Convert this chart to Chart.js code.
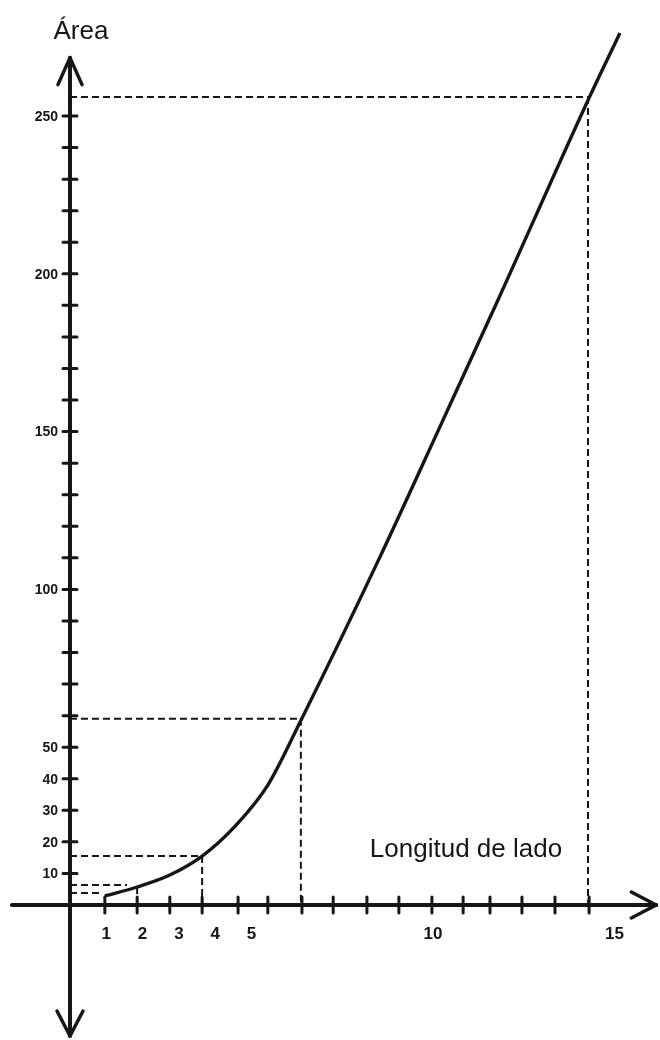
<!DOCTYPE html>
<html><head><meta charset="utf-8">
<script src="https://cdn.jsdelivr.net/npm/chart.js@4"></script>
<style>html,body{margin:0;padding:0;background:#fff}#wrap{width:660px;height:1040px;position:relative}canvas{display:block}</style>
</head><body><div id="wrap"><canvas id="c" width="660" height="1040"></canvas></div>
<script>
// ---- data ----
const sideLength = [0.96, 1.85, 2.75, 3.64, 4.55, 5.45, 6.34, 8.54, 10.19, 11.79, 14.27, 15.15];
const areaValues = [2.85, 5.7, 9.5, 15.5, 25.0, 38.0, 58.0, 110.3, 151.5, 191.7, 255.0, 276.3];

// dashed guides: horizontal (from the Area axis to the curve) and vertical (from the curve to the side axis)
const guideHArea = [3.8, 6.3, 15.5, 59, 256];
const guideHSide = [0.91, 1.57, 3.64, 6.36, 14.27];
const guideVSide = [1.85, 3.64, 6.36, 14.27];
const guideVArea = [5.7, 15.5, 59, 256];

// axis ticks
const yTickMarks = [10,20,30,40,50,60,70,80,90,100,110,120,130,140,150,160,170,180,190,200,210,220,230,240,250];
const yTickLabels = ['10','20','30','40','50','100','150','200','250'];
const xTickMarks = [0.96, 1.85, 2.75, 3.64, 4.63, 5.45, 6.39, 7.25, 8.18, 9.06, 9.97, 10.83, 11.57, 12.45, 13.36, 14.30];
const xTickLabels = ['1','2','3','4','5','10','15'];

const yAxisTitle = 'Área';
const xAxisTitle = 'Longitud de lado';

// ---- build datasets ----
const ink = '#161616';
const datasets = [];
datasets.push({
  data: sideLength.map((x, i) => ({x, y: areaValues[i]})),
  borderColor: ink, borderWidth: 3.4, pointRadius: 0,
  cubicInterpolationMode: 'monotone', fill: false, order: 0
});
guideHArea.forEach((a, i) => datasets.push({
  data: [{x: 0, y: a}, {x: guideHSide[i], y: a}],
  borderColor: ink, borderWidth: 2, borderDash: [7, 4], pointRadius: 0, tension: 0, order: 1
}));
guideVSide.forEach((s, i) => datasets.push({
  data: [{x: s, y: guideVArea[i]}, {x: s, y: 0}],
  borderColor: ink, borderWidth: 2, borderDash: [7, 4], pointRadius: 0, tension: 0, order: 1
}));

const FONT = '"Liberation Sans", Arial, Helvetica, sans-serif';

const axesPlugin = {
  id: 'handAxes',
  beforeDatasetsDraw(chart) {
    const {ctx, scales: {x, y}} = chart;
    const x0 = x.getPixelForValue(0), y0 = y.getPixelForValue(0);
    ctx.save();
    ctx.strokeStyle = ink; ctx.lineCap = 'round'; ctx.lineJoin = 'round';
    ctx.lineWidth = 4;
    ctx.beginPath();
    ctx.moveTo(x.getPixelForValue(-1.6), y0); ctx.lineTo(x.getPixelForValue(16.15), y0);
    ctx.moveTo(x0, y.getPixelForValue(268.5)); ctx.lineTo(x0, y.getPixelForValue(-41.5));
    ctx.stroke();
    ctx.lineWidth = 3.5;
    const tipTop = y.getPixelForValue(268.5), tipBot = y.getPixelForValue(-41.5), tipRight = x.getPixelForValue(16.15);
    ctx.beginPath();
    ctx.moveTo(x0 - 12, tipTop + 27); ctx.lineTo(x0, tipTop); ctx.lineTo(x0 + 12, tipTop + 27);
    ctx.moveTo(x0 - 13, tipBot - 25); ctx.lineTo(x0, tipBot); ctx.lineTo(x0 + 13, tipBot - 25);
    ctx.moveTo(tipRight - 25, y0 - 13); ctx.lineTo(tipRight, y0); ctx.lineTo(tipRight - 25, y0 + 13);
    ctx.stroke();
    ctx.lineWidth = 3;
    ctx.beginPath();
    yTickMarks.forEach(v => { const p = y.getPixelForValue(v); ctx.moveTo(x0 - 7, p); ctx.lineTo(x0 + 7, p); });
    xTickMarks.forEach(v => { const p = x.getPixelForValue(v); ctx.moveTo(p, y0 - 8); ctx.lineTo(p, y0 + 8); });
    ctx.stroke();
    ctx.restore();
  },
  afterDraw(chart) {
    const {ctx, scales: {x, y}} = chart;
    const x0 = x.getPixelForValue(0), y0 = y.getPixelForValue(0);
    ctx.save();
    ctx.fillStyle = ink;
    ctx.font = 'bold 14px ' + FONT;
    ctx.textAlign = 'right'; ctx.textBaseline = 'middle';
    yTickLabels.forEach(t => ctx.fillText(t, x0 - 12, y.getPixelForValue(Number(t)) + 1));
    ctx.font = 'bold 17px ' + FONT;
    ctx.textAlign = 'center'; ctx.textBaseline = 'middle';
    xTickLabels.forEach(t => ctx.fillText(t, x.getPixelForValue(Number(t)), y0 + 29));
    ctx.font = '26px ' + FONT;
    ctx.textAlign = 'center'; ctx.textBaseline = 'alphabetic';
    ctx.fillText(yAxisTitle, x0 + 11, 39);
    ctx.textAlign = 'left';
    ctx.fillText(xAxisTitle, x.getPixelForValue(8.26), y0 - 48);
    ctx.restore();
  }
};

new Chart(document.getElementById('c'), {
  type: 'line',
  data: {datasets},
  options: {
    responsive: false, animation: false, devicePixelRatio: 1,
    layout: {padding: 0},
    plugins: {legend: {display: false}, tooltip: {enabled: false}, title: {display: false}},
    scales: {
      x: {type: 'linear', display: false, min: -1.928, max: 16.253},
      y: {type: 'linear', display: false, min: -42.78, max: 286.76}
    }
  },
  plugins: [axesPlugin]
});
</script>
</body></html>
